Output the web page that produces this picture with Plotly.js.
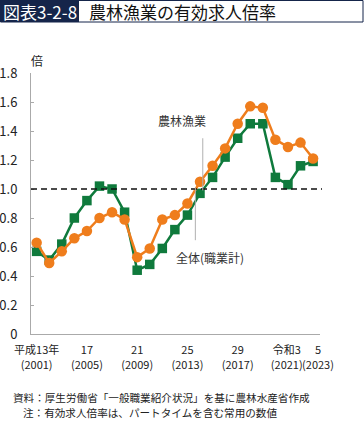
<!DOCTYPE html>
<html>
<head>
<meta charset="utf-8">
<script src="https://cdn.plot.ly/plotly-3.0.1.min.js"></script>
<style>
html,body{margin:0;padding:0;background:#fff;}
#chart{width:364px;height:425px;}
</style>
</head>
<body>
<div id="chart"></div>
<script>
// ---- data ----
var years = [2001,2002,2003,2004,2005,2006,2007,2008,2009,2010,2011,2012,2013,2014,2015,2016,2017,2018,2019,2020,2021,2022,2023];
var agriValues = [0.57,0.51,0.62,0.80,0.92,1.02,1.00,0.84,0.44,0.48,0.59,0.72,0.82,0.97,1.08,1.22,1.35,1.45,1.45,1.08,1.03,1.16,1.19];
var totalValues = [0.63,0.49,0.57,0.66,0.71,0.80,0.84,0.79,0.53,0.59,0.79,0.82,0.90,1.05,1.16,1.28,1.45,1.57,1.56,1.34,1.29,1.32,1.21];
var xTickVals = [2001,2005,2009,2013,2017,2021,2023];
var xTickText = ["平成13年<br>(2001)","17<br>(2005)","21<br>(2009)","25<br>(2013)","29<br>(2017)","令和3\u00a0<br>(2021)\u00a0","\u00a0\u00a0\u00a0\u00a05<br>\u00a0\u00a0\u00a0\u00a0(2023)"];
var yTickVals = [0,0.2,0.4,0.6,0.8,1.0,1.2,1.4,1.6,1.8];
var yTickText = ["0","0.2","0.4","0.6","0.8","1.0","1.2","1.4","1.6","1.8"];
var seriesNames = ["農林漁業","全体(職業計)"];

// ---- layout helpers (pixel -> paper) ----
var W = 364, H = 425;
var mL = 31, mR = 44, mT = 73, mB = 91;
var pw = W - mL - mR, ph = H - mT - mB;
function px(x){ return (x - mL) / pw; }
function py(y){ return (H - mB - y) / ph; }

var FONT = '"Noto Sans CJK JP", "Noto Sans", sans-serif';
var GREEN = '#0f7a3c', ORANGE = '#ef7d1c', NAVY = '#15254a';

var traces = [
  {x: years, y: agriValues, name: seriesNames[0], type: 'scatter', mode: 'lines+markers',
   line: {color: GREEN, width: 2.5},
   marker: {symbol: 'square', size: 9.5, color: GREEN}},
  {x: years, y: totalValues, name: seriesNames[1], type: 'scatter', mode: 'lines+markers',
   line: {color: ORANGE, width: 2.5},
   marker: {symbol: 'circle', size: 10.5, color: ORANGE}}
];

var layout = {
  width: W, height: H,
  margin: {l: mL, r: mR, t: mT, b: mB, pad: 0},
  paper_bgcolor: '#fff', plot_bgcolor: '#fff',
  showlegend: false,
  font: {family: FONT, color: '#222'},
  xaxis: {
    range: [2000.55, 2023.55], showgrid: false, zeroline: false,
    showline: true, linecolor: '#aaaaaa', linewidth: 1,
    ticks: '', tickmode: 'array', tickvals: xTickVals, ticktext: xTickText,
    tickangle: 0, automargin: false,
    tickfont: {size: 11, color: '#222', family: FONT},
    ticklabelstandoff: 6, fixedrange: true
  },
  yaxis: {
    range: [0, 1.8], showgrid: false, zeroline: false,
    showline: true, linecolor: '#aaaaaa', linewidth: 1,
    ticks: 'inside', ticklen: 3, tickcolor: '#aaaaaa',
    tickmode: 'array', tickvals: yTickVals, ticktext: yTickText,
    tickfont: {size: 13, color: '#222', family: FONT},
    ticklabelstandoff: 10, fixedrange: true
  },
  shapes: [
    {type: 'line', xref: 'paper', yref: 'y', x0: 0, x1: px(322), y0: 1.0, y1: 1.0,
     line: {color: '#111', width: 1.5, dash: '6px,4px'}},
    {type: 'line', xref: 'x', yref: 'y', x0: 2014.22, x1: 2014.22, y0: 0.99, y1: 1.35,
     line: {color: '#b0b0b0', width: 1}},
    {type: 'line', xref: 'x', yref: 'y', x0: 2013.63, x1: 2013.63, y0: 0.647, y1: 1.01,
     line: {color: '#b0b0b0', width: 1}},
    {type: 'rect', xref: 'paper', yref: 'paper', x0: px(0.5), x1: px(363), y0: py(22), y1: py(0.5),
     line: {color: NAVY, width: 1}, fillcolor: 'rgba(0,0,0,0)', layer: 'above'},
    {type: 'rect', xref: 'paper', yref: 'paper', x0: px(0), x1: px(79), y0: py(22), y1: py(0),
     line: {width: 0}, fillcolor: NAVY, layer: 'above'}
  ],
  annotations: [
    {xref: 'paper', yref: 'paper', x: px(40), y: py(11), text: '図表3-2-8', showarrow: false,
     xanchor: 'center', yanchor: 'middle', font: {size: 17, color: '#fff', family: FONT}},
    {xref: 'paper', yref: 'paper', x: px(87), y: py(11), text: '農林漁業の有効求人倍率', showarrow: false,
     xanchor: 'left', yanchor: 'middle', font: {size: 17, color: '#111', family: FONT}},
    {xref: 'paper', yref: 'paper', x: px(37), y: py(60), text: '倍', showarrow: false,
     xanchor: 'center', yanchor: 'middle', font: {size: 12, color: '#222', family: FONT}},
    {xref: 'x', yref: 'y', x: 2012.57, y: 1.474, text: seriesNames[0], showarrow: false,
     xanchor: 'center', yanchor: 'middle', font: {size: 12, color: '#333', family: FONT}},
    {xref: 'x', yref: 'y', x: 2014.79, y: 0.53, text: seriesNames[1], showarrow: false,
     xanchor: 'center', yanchor: 'middle', font: {size: 12, color: '#333', family: FONT}},
    {xref: 'paper', yref: 'paper', x: px(12), y: py(397.5), text: '資料：厚生労働省「一般職業紹介状況」を基に農林水産省作成', showarrow: false,
     xanchor: 'left', yanchor: 'middle', borderpad: 0, font: {size: 10.6, color: '#222', family: FONT}},
    {xref: 'paper', yref: 'paper', x: px(22), y: py(412.5), text: '注：有効求人倍率は、パートタイムを含む常用の数値', showarrow: false,
     xanchor: 'left', yanchor: 'middle', borderpad: 0, font: {size: 10.6, color: '#222', family: FONT}}
  ]
};

Plotly.newPlot('chart', traces, layout, {staticPlot: true, displayModeBar: false});
</script>
</body>
</html>
